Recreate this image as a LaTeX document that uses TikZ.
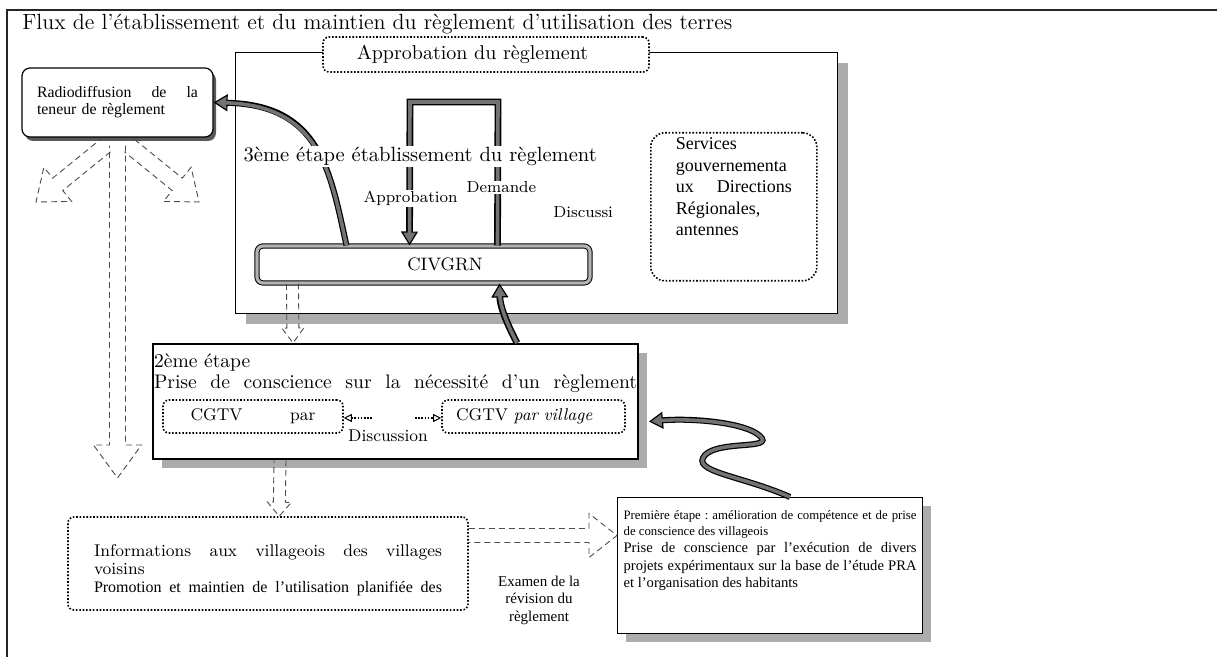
\documentclass[tikz,border=0pt]{standalone}
\usepackage{fontspec}
\newfontfamily\tms{Liberation Serif}
\usetikzlibrary{positioning}
\usetikzlibrary{arrows.meta}
\usetikzlibrary{calc,shadows}
\tikzset{
        % Plain framed boxes
        box_plain/.style={draw=black, line width=0.6pt, fill=white, inner sep=0pt},
        % Framed boxes with a shadow
        box_shadow/.style={box_plain, drop shadow={shadow xshift=#1, shadow yshift=-#1, fill=gray!65, opacity=1}},
        box_shadow/.default=4.5pt,
        % Dotted rounded boxes
        box_dotted/.style={draw=black, fill=white, line width=0.8pt, dash pattern=on 0.8pt off 0.9pt, rounded corners=3pt, inner sep=0pt},
        % Outlined band arrows
        band_arrow/.style={line width=3.4pt, draw=black, line join=miter,
            -{Triangle[length=7pt, width=8.5pt, fill=black!55, line width=0.6pt]},
            postaction={draw=black!55, line width=1.8pt, -, shorten >=5pt}},
        % Hollow block arrows
        hollow_arrow/.style={draw=gray!60!black, line width=0.45pt, densely dashed, line join=miter},
        % Labels lying on the bands
        band_label/.style={fill=white, inner sep=0.6pt}
}
\newcommand{\boxtext}[3]{\begin{minipage}[c][#2][t]{#1}\raggedright #3\end{minipage}}
\newcommand{\hollowarrow}[5]{%
    \coordinate (ha) at ($(#2)!#5!(#1)$);
    \draw[hollow_arrow] ($(#1)!#3!90:(#2)$) -- ($(ha)!#3!-90:(#1)$) -- ($(ha)!#4!-90:(#1)$) -- (#2)
        -- ($(ha)!#4!90:(#1)$) -- ($(ha)!#3!90:(#1)$) -- ($(#1)!#3!-90:(#2)$);
}

\begin{document}
\begin{tikzpicture}[x=0.5pt, y=-0.5pt]
    \useasboundingbox (0,0) rectangle (1217,657);
    \draw[line width=0.7pt, gray!30!black] (7,657) -- (7,10) -- (1217,10);
    \node[anchor=base west, inner sep=0pt, font={\fontsize{11}{13}\selectfont}] (title) at (22,30)
        {Flux de l’établissement et du maintien du règlement d’utilisation des terres};

    % 3rd stage
    \node[box_shadow=5pt, anchor=north west, minimum width=301pt, minimum height=130.5pt] (stage3) at (235,52) {};
    \node[box_dotted, minimum width=163pt, minimum height=17.5pt, font={\fontsize{10}{12}\selectfont}] (approval) at (486,54.5)
        {Approbation du règlement\hspace*{13.5pt}};
    \node[box_plain, rounded corners=4pt, drop shadow={shadow xshift=1.5pt, shadow yshift=-2pt, fill=gray!70!black, opacity=1},
        minimum width=95.5pt, minimum height=34.5pt, text width=80.5pt, align=left,
        font={\tms\fontsize{7.9}{8.5}\selectfont}] (radio) at (117.5,102.5)
        {Radiodiffusion\hfill de\hfill la\\ teneur de règlement};
    \node[draw=black, line width=0.5pt, double=gray!60, double distance=1.6pt, rounded corners=3pt, fill=white,
        minimum width=166.5pt, minimum height=18.5pt, font={\fontsize{9}{11}\selectfont}] (civ) at (423.5,264.5)
        {\hspace*{21.5pt}CIVGRN};
    \node[box_dotted, rounded corners=7pt, anchor=north west, inner xsep=12pt, inner ysep=2.5pt,
        minimum width=83pt, minimum height=74pt, font={\tms\fontsize{9}{10.75}\selectfont}] (serv) at (650,132)
        {\boxtext{58pt}{69pt}{Services\\ gouvernementa\\ ux\hfill Directions\\ Régionales,\\ antennes}};

    % 2nd stage
    \node[box_shadow, line width=1pt, anchor=north west, inner xsep=0.5pt, inner ysep=5pt,
        minimum width=242.5pt, minimum height=57.5pt, font={\fontsize{9.8}{10.5}\selectfont}] (stage2) at (152,343)
        {\boxtext{241.5pt}{47.5pt}{2ème étape\\ Prise\hfill de\hfill conscience\hfill sur\hfill la\hfill nécessité\hfill d’un\hfill règlement}};
    \node[box_dotted, minimum width=90pt, minimum height=16.5pt, text width=62.5pt, inner xsep=13.75pt, align=left,
        font={\fontsize{8.5}{10}\selectfont}] (cgtvA) at (253,416.5) {CGTV\hfill par};
    \node[box_dotted, minimum width=91.5pt, minimum height=16.5pt, text width=77.5pt, inner xsep=7pt, align=left,
        font={\fontsize{8.5}{10}\selectfont}] (cgtvB) at (533.5,416.5) {CGTV \textit{par village}};
    \node[anchor=base, inner sep=0pt, font={\fontsize{8.5}{10}\selectfont}] (discuss) at (388,442) {Discussion};
    \coordinate (discL) at (372,418);
    \coordinate (discR) at (415,418);
    \draw[dash pattern=on 0.8pt off 0.8pt, line width=0.6pt, -{Triangle[open, length=4pt, width=4pt, line width=0.5pt]}]
        (discL) -- (discL -| cgtvA.east);
    \draw[dash pattern=on 0.8pt off 0.8pt, line width=0.6pt, -{Triangle[open, length=4pt, width=4pt, line width=0.5pt]}]
        (discR) -- (discR -| cgtvB.west);

    % villages and 1st stage
    \node[box_dotted, minimum width=200pt, minimum height=46.5pt, inner xsep=12pt, inner ysep=3pt,
        font={\fontsize{8.5}{9}\selectfont}] (info) at (268,563.5)
        {\boxtext{174pt}{40.5pt}{\vspace*{11pt}Informations\hfill aux\hfill villageois\hfill des\hfill villages\\ voisins\\
        {\tms\fontsize{8}{9}\selectfont Promotion\hfill et\hfill maintien\hfill de\hfill l’utilisation\hfill planifiée\hfill des}}};
    \node[box_shadow=4pt, anchor=north west, inner xsep=3pt, inner ysep=3pt, minimum width=152.5pt, minimum height=68pt,
        font=\tms] (pre) at (617,497)
        {\boxtext{146.5pt}{62pt}{\vspace*{3.5pt}\fontsize{6.4}{8}\selectfont Première\hfill étape\hfill :\hfill amélioration\hfill de\hfill compétence\hfill et\hfill de\hfill prise\\ de conscience des villageois\par
        \fontsize{7.3}{8.75}\selectfont Prise\hfill de\hfill conscience\hfill par\hfill l’exécution\hfill de\hfill divers\\
        projets\hfill expérimentaux\hfill sur\hfill la\hfill base\hfill de\hfill l’étude\hfill PRA\\ et l’organisation des habitants}};
    \node[align=center, inner sep=0pt, font={\tms\fontsize{7.5}{8.75}\selectfont}] (review) at (539,600)
        {Examen de la\\ révision du\\ règlement};

    % hollow arrows
    \coordinate (rdC) at ([yshift=-4pt]radio.south);
    \coordinate (rdLt) at ([shift={(-6pt,-4pt)}]radio.south);
    \coordinate (rdRt) at ([shift={(6pt,-4pt)}]radio.south);
    \coordinate (rdD) at (117.5,478);
    \coordinate (rdL) at (36,202);
    \coordinate (rdR) at (199,202);
    \hollowarrow{rdC}{rdD}{4pt}{12pt}{16.5pt}
    \hollowarrow{rdLt}{rdL}{4pt}{11pt}{14pt}
    \hollowarrow{rdRt}{rdR}{4pt}{11pt}{14pt}
    \coordinate (c2a) at ([xshift=18pt]civ.south west);
    \coordinate (c2b) at ([xshift=70.5pt]stage2.north west);
    \hollowarrow{c2a}{c2b}{3pt}{5.5pt}{7.5pt}
    \coordinate (s2a) at ([xshift=64pt]stage2.south west);
    \coordinate (s2b) at ([xshift=106pt]info.north west);
    \hollowarrow{s2a}{s2b}{3pt}{6pt}{7pt}
    \coordinate (i2a) at ([yshift=14pt]info.east);
    \coordinate (i2b) at (i2a -| pre.west);
    \hollowarrow{i2a}{i2b}{3.5pt}{11pt}{14pt}

    % band arrows
    \coordinate (bkR) at (498,102);
    \coordinate (bkL) at (410,102);
    \draw[band_arrow] ([xshift=120.5pt]civ.north west) -- (bkR) -- (bkL) -- ([xshift=76.5pt]civ.north west);
    \draw[band_arrow, line width=3pt] ([xshift=45pt]civ.north west) .. controls (330,170) and (320,105) .. (radio.east);
    \draw[band_arrow] ([xshift=182.5pt]stage2.north west) .. controls (505,320) and (500,305) .. ([xshift=121.5pt]civ.south west);
    \draw[band_arrow, line width=3pt] ([xshift=86.5pt]pre.north west) .. controls (740,475) and (690,472) .. (705,455)
        .. controls (720,440) and (775,450) .. (760,436) .. controls (745,422) and (690,418) .. ([shift={(5pt,-10pt)}]stage2.east);

    % labels
    \node[band_label, anchor=base west, font={\fontsize{10.3}{12}\selectfont}] (stage3_title) at (242,162)
        {3ème étape établissement du règlement};
    \node[band_label, anchor=base west, font={\fontsize{8}{10}\selectfont}] (approve) at (362,203) {Approbation};
    \node[band_label, anchor=base west, font={\fontsize{8}{10}\selectfont}] (request) at (465,193) {Demande};
    \node[anchor=base west, inner sep=0pt, font={\fontsize{8}{10}\selectfont}] (discuss3) at (553,218) {Discussi};
\end{tikzpicture}
\end{document}
